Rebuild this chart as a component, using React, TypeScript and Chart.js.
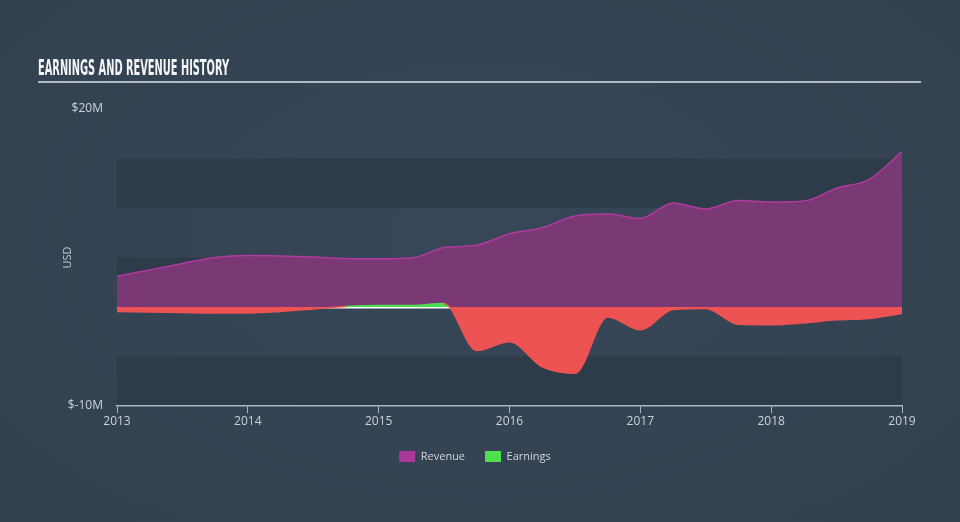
import React, { useEffect, useRef } from 'react';
import { Chart, registerables } from 'chart.js';

Chart.register(...registerables);

// ---- data ----
const periods = [
  2013, 2013.25, 2013.5, 2013.75, 2014, 2014.25, 2014.5, 2014.75, 2015, 2015.25, 2015.5, 2015.75,
  2016, 2016.25, 2016.5, 2016.75, 2017, 2017.25, 2017.5, 2017.75, 2018, 2018.25, 2018.5, 2018.75, 2019,
];
const revenue = [
  3.1, 3.75, 4.4, 5.0, 5.2, 5.15, 5.05, 4.9, 4.88, 4.95, 6.0, 6.25,
  7.4, 8.0, 9.2, 9.4, 8.95, 10.5, 9.9, 10.75, 10.6, 10.7, 12.0, 12.9, 15.7,
];
const earnings = [
  -0.45, -0.5, -0.55, -0.6, -0.6, -0.45, -0.2, 0.05, 0.15, 0.15, 0.35, -4.4,
  -3.5, -6.05, -6.7, -1.0, -2.3, -0.25, -0.15, -1.75, -1.8, -1.6, -1.3, -1.15, -0.65,
];
const seriesNames = ['Revenue', 'Earnings'];
const xTickValues = [2013, 2014, 2015, 2016, 2017, 2018, 2019];
const yTickValues = [20, -10];
const yTickLabels = ['$20M', '$-10M'];
const bandRanges = [
  [15, 10],
  [5, 0],
  [-5, -10],
];
const chartTitle = 'EARNINGS AND REVENUE HISTORY';
const yAxisTitle = 'USD';

// ---- styles ----
const BAND = '#2e3b49';
const REV_FILL = '#7a3874';
const REV_LINE = '#b03a9f';
const RED = '#ee5353';
const GREEN = '#4cdc4f';
const legendColors = ['#a8389a', '#4fe04f'];
const TICK_COLOR = '#cdd2d8';
const AXIS_COLOR = '#aab7c4';
const FONT = "'Open Sans', 'DejaVu Sans', sans-serif";

const decorPlugin = {
  id: 'decor',
  beforeDraw(chart: any) {
    const { ctx, chartArea: a, scales } = chart;
    const y = scales.y;
    ctx.save();
    ctx.fillStyle = BAND;
    for (const [hi, lo] of bandRanges) {
      const t = y.getPixelForValue(hi);
      const b = y.getPixelForValue(lo);
      ctx.fillRect(a.left, t, a.right - a.left, b - t);
    }
    // title
    ctx.font = "bold 21px 'Liberation Sans Narrow', 'DejaVu Sans Condensed', 'DejaVu Sans', sans-serif";
    const w = ctx.measureText(chartTitle).width;
    ctx.translate(38, 75);
    ctx.scale(191 / w, 1);
    ctx.fillStyle = '#f3f4f5';
    ctx.textBaseline = 'alphabetic';
    ctx.fillText(chartTitle, 0, 0);
    ctx.restore();
    ctx.save();
    ctx.fillStyle = '#b4bac1';
    ctx.fillRect(38, 81, 883, 2);
    ctx.restore();
  },
  beforeDatasetsDraw(chart: any) {
    const { ctx, chartArea: a, scales } = chart;
    const y0 = scales.y.getPixelForValue(0);
    ctx.save();
    ctx.strokeStyle = '#ffffff';
    ctx.lineWidth = 1.5;
    ctx.beginPath();
    ctx.moveTo(a.left, y0 + 0.75);
    ctx.lineTo(a.right, y0 + 0.75);
    ctx.stroke();
    ctx.restore();
  },
};

export default function App() {
  const ref = useRef<HTMLCanvasElement | null>(null);

  useEffect(() => {
    document.body.style.margin = '0';
    const canvas = ref.current;
    if (!canvas) return;
    const chart = new Chart(canvas, {
      type: 'line',
      data: {
        datasets: [
          {
            label: seriesNames[0],
            data: periods.map((p, i) => ({ x: p, y: revenue[i] })),
            borderColor: REV_LINE,
            backgroundColor: REV_FILL,
            borderWidth: 1.5,
            fill: 'origin',
            pointRadius: 0,
            cubicInterpolationMode: 'monotone',
            order: 1,
          },
          {
            label: seriesNames[1],
            data: periods.map((p, i) => ({ x: p, y: earnings[i] })),
            borderColor: RED,
            backgroundColor: RED,
            borderWidth: 1.5,
            fill: { target: 'origin', above: GREEN, below: RED },
            pointRadius: 0,
            cubicInterpolationMode: 'monotone',
            segment: {
              borderColor: (c: any) => ((c.p0.parsed.y + c.p1.parsed.y) / 2 >= 0 ? GREEN : RED),
            },
            order: 0,
          },
        ],
      },
      options: {
        responsive: false,
        animation: false,
        devicePixelRatio: 1,
        layout: { padding: { left: 0, right: 10, top: 109, bottom: 50 } },
        plugins: {
          tooltip: { enabled: false },
          legend: {
            display: true,
            position: 'bottom',
            labels: {
              boxWidth: 16,
              boxHeight: 11,
              padding: 20,
              color: '#d3d6da',
              font: { family: FONT, size: 11 },
              sort: (a: any, b: any) => a.datasetIndex - b.datasetIndex,
              generateLabels: () =>
                seriesNames.map((name, i) => ({
                  text: name,
                  fillStyle: legendColors[i],
                  strokeStyle: legendColors[i],
                  lineWidth: 0,
                  hidden: false,
                  datasetIndex: i,
                  fontColor: '#d3d6da',
                })),
            },
          },
        },
        scales: {
          x: {
            type: 'linear',
            min: 2013,
            max: 2019,
            afterBuildTicks: (s: any) => {
              s.ticks = xTickValues.map((v) => ({ value: v }));
            },
            afterFit: (s: any) => {
              s.height = 25;
            },
            ticks: {
              color: TICK_COLOR,
              font: { family: FONT, size: 12 },
              padding: 1,
              maxRotation: 0,
              autoSkip: false,
              callback: (v: any) => String(v),
            },
            grid: {
              display: true,
              drawOnChartArea: false,
              drawTicks: true,
              tickLength: 7,
              color: AXIS_COLOR,
              lineWidth: 1,
            },
            border: { display: true, color: AXIS_COLOR, width: 1.5 },
          },
          y: {
            type: 'linear',
            position: 'left',
            min: -10,
            max: 20,
            afterBuildTicks: (s: any) => {
              s.ticks = yTickValues.map((v) => ({ value: v }));
            },
            afterFit: (s: any) => {
              s.width = 117;
            },
            ticks: {
              color: TICK_COLOR,
              font: { family: FONT, size: 12 },
              padding: 14,
              callback: (v: any) => {
                const i = yTickValues.indexOf(v);
                return i >= 0 ? yTickLabels[i] : '';
              },
            },
            grid: { display: false, drawTicks: false },
            border: { display: false },
            title: {
              display: true,
              text: yAxisTitle,
              color: '#c3c8ce',
              font: { family: FONT, size: 11 },
              padding: { top: 61, bottom: 0 },
            },
          },
          y2: {
            type: 'linear',
            position: 'right',
            display: true,
            afterFit: (s: any) => {
              s.width = 48;
            },
            ticks: { display: false },
            grid: { display: false, drawTicks: false },
            border: { display: false },
          },
        },
      },
      plugins: [decorPlugin],
    } as any);
    return () => chart.destroy();
  }, []);

  return (
    <div
      style={{
        position: 'fixed',
        left: 0,
        top: 0,
        width: 960,
        height: 522,
        background: 'radial-gradient(ellipse at 50% 45%, #374757 0%, #334150 100%)',
      }}
    >
      <canvas ref={ref} width={960} height={522} style={{ display: 'block' }} />
    </div>
  );
}
